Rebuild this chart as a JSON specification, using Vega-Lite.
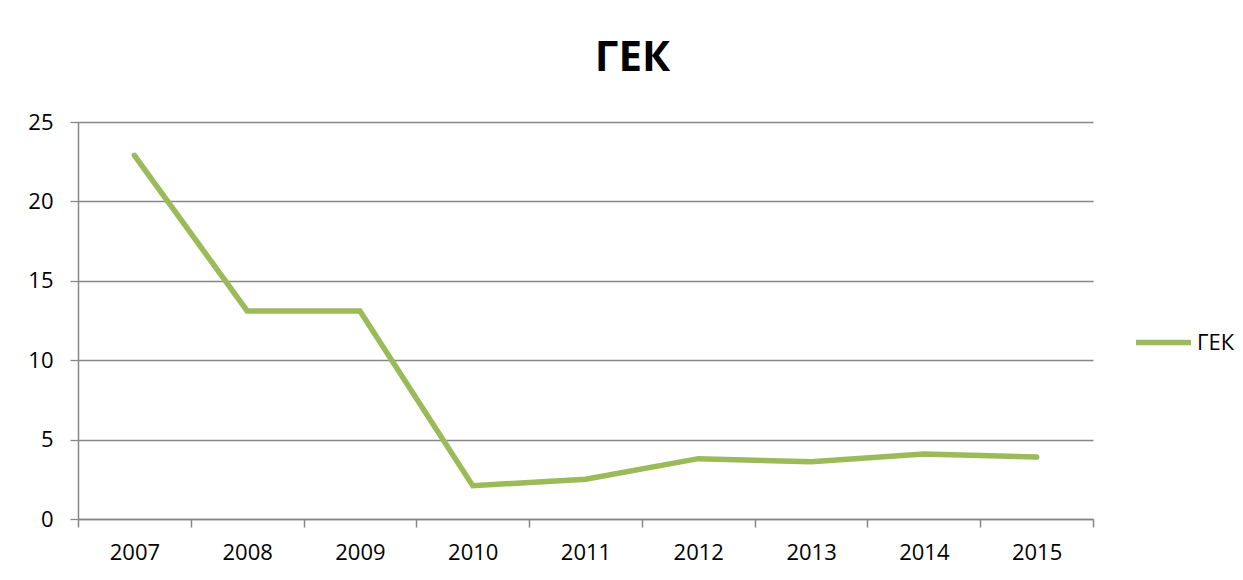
{
  "$schema": "https://vega.github.io/schema/vega-lite/v6.json",
  "width": 1015,
  "height": 397,
  "autosize": {"type": "none"},
  "padding": {"left": 78, "top": 122, "right": 150, "bottom": 61},
  "background": "white",
  "title": {
    "text": "ГЕК",
    "font": "Open Sans",
    "fontSize": 42,
    "fontWeight": "bold",
    "color": "black",
    "anchor": "middle",
    "baseline": "alphabetic",
    "offset": -2,
    "dx": 47
  },
  "data": {
    "values": [
      {"year": "2007", "value": 22.9, "series": "ГЕК"},
      {"year": "2008", "value": 13.1, "series": "ГЕК"},
      {"year": "2009", "value": 13.1, "series": "ГЕК"},
      {"year": "2010", "value": 2.1, "series": "ГЕК"},
      {"year": "2011", "value": 2.5, "series": "ГЕК"},
      {"year": "2012", "value": 3.8, "series": "ГЕК"},
      {"year": "2013", "value": 3.6, "series": "ГЕК"},
      {"year": "2014", "value": 4.1, "series": "ГЕК"},
      {"year": "2015", "value": 3.9, "series": "ГЕК"}
    ]
  },
  "mark": {"type": "line", "strokeWidth": 5.5, "strokeCap": "round", "strokeJoin": "miter"},
  "encoding": {
    "x": {
      "field": "year",
      "type": "ordinal",
      "scale": {"type": "band", "paddingInner": 0, "paddingOuter": 0},
      "axis": {
        "title": null,
        "labelAngle": 0,
        "tickBand": "extent",
        "grid": false,
        "domainColor": "#868686",
        "domainWidth": 1.5,
        "tickColor": "#868686",
        "tickWidth": 1.5,
        "tickSize": 8,
        "labelFont": "Open Sans",
        "labelFontSize": 22,
        "labelColor": "black",
        "labelPadding": 15
      }
    },
    "y": {
      "field": "value",
      "type": "quantitative",
      "scale": {"domain": [0, 25], "nice": false},
      "axis": {
        "title": null,
        "values": [0, 5, 10, 15, 20, 25],
        "grid": true,
        "gridColor": "#868686",
        "gridWidth": 1.3,
        "domainColor": "#868686",
        "domainWidth": 1.5,
        "tickColor": "#868686",
        "tickWidth": 1.3,
        "tickSize": 8,
        "labelFont": "Open Sans",
        "labelFontSize": 22,
        "labelColor": "black",
        "labelPadding": 17
      }
    },
    "color": {
      "field": "series",
      "type": "nominal",
      "scale": {"range": ["#9BBB59"]},
      "legend": {
        "title": null,
        "orient": "none",
        "legendX": 1055,
        "legendY": 190,
        "symbolType": "stroke",
        "symbolSize": 3025,
        "symbolStrokeWidth": 5.5,
        "labelFont": "Open Sans",
        "labelFontSize": 22,
        "labelColor": "black",
        "labelOffset": 3
      }
    }
  },
  "config": {"view": {"stroke": null}}
}
